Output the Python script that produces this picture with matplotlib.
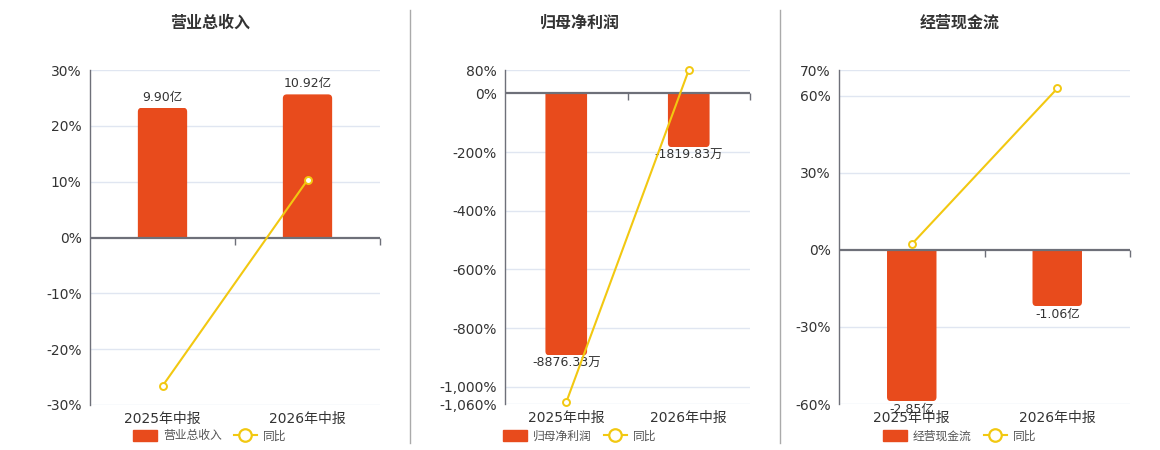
import matplotlib
matplotlib.use('Agg')
import matplotlib.pyplot as plt
from matplotlib.lines import Line2D
from matplotlib.patches import Patch, FancyBboxPatch
from matplotlib.transforms import Bbox, IdentityTransform, TransformedBbox

plt.rcParams['font.family'] = ['DejaVu Sans', 'Noto Sans CJK SC']

#%% Data

categories = ['2025年中报', '2026年中报']

revenue = [9.90, 10.92]            # 亿
revenue_yoy = [-26.6, 10.30]       # %
profit = [-8876.33, -1819.83]      # 万
profit_yoy = [-1053.0, 79.5]
cash = [-2.85, -1.06]              # 亿
cash_yoy = [2.2, 62.81]

titles = ['营业总收入', '归母净利润', '经营现金流']
units = ['亿', '万', '亿']
pct_ticks = [
    [-30, -20, -10, 0, 10, 20, 30],
    [-1060, -1000, -800, -600, -400, -200, 0, 80],
    [-60, -30, 0, 30, 60, 70],
]
bar_scale = [0.426, 9.94, 0.0484]

#%% Style

BAR = '#E84B1C'
LINE = '#F2C811'
GRID = '#E0E6F1'
AXIS = '#6E7079'
TXT = '#333333'

fig = plt.figure(figsize=(11.6, 4.5), dpi=100)
W, H = 1160, 450

# plot areas in pixels: left, right, top, bottom
boxes = [(90, 380, 70, 405), (505, 750, 70, 404.3), (839, 1130, 70, 404)]
centers = [210, 580, 960]

series = [(revenue, revenue_yoy), (profit, profit_yoy), (cash, cash_yoy)]


def round_bars(ax, bars, r=4):
    # swap each bar for one with rounded corners at its far end
    for rect in bars:
        x0 = rect.get_x()
        w = rect.get_width()
        h = rect.get_height()
        (px0, pz), (px1, pv) = ax.transData.transform([(x0, 0), (x0 + w, h)])
        ylo, yhi = (pz - r, pv) if pv >= pz else (pv, pz + r)
        fb = FancyBboxPatch((px0, ylo), px1 - px0, yhi - ylo,
                            boxstyle='round,pad=0,rounding_size=%d' % r,
                            facecolor=BAR, edgecolor='none',
                            transform=IdentityTransform())
        ax.add_patch(fb)
        cb = Bbox([[px0 - 1, min(pz, pv)], [px1 + 1, max(pz, pv)]])
        fb.set_clip_box(TransformedBbox(cb, IdentityTransform()))
        rect.set_visible(False)


for i, (vals, yoy) in enumerate(series):
    l, r, t, b = boxes[i]
    rect = [l / W, 1 - b / H, (r - l) / W, (b - t) / H]
    axp = fig.add_axes(rect)
    ticks = pct_ticks[i]
    lo, hi = ticks[0], ticks[-1]
    axp.set_ylim(lo, hi)
    axp.set_xlim(-0.5, 1.5)
    axp.set_yticks(ticks)
    axp.set_yticklabels(['{:,.0f}%'.format(v) for v in ticks])
    axp.tick_params(axis='y', length=0, labelsize=10, labelcolor=TXT, pad=6)
    axp.set_xticks(range(len(categories)))
    axp.set_xticklabels(categories)
    axp.tick_params(axis='x', length=0, labelsize=10, labelcolor=TXT, pad=5)
    for s in ['top', 'right', 'bottom']:
        axp.spines[s].set_visible(False)
    axp.spines['left'].set_color(AXIS)
    axp.spines['left'].set_linewidth(1)
    for v in ticks:
        if v != 0:
            axp.axhline(v, color=GRID, lw=1, zorder=0)
    axp.set_zorder(1)

    # bars
    axb = axp.twinx()
    k = bar_scale[i]
    axb.set_ylim(lo * k, hi * k)
    axb.set_yticks([])
    for s in axb.spines.values():
        s.set_visible(False)
    bars = axb.bar(range(len(categories)), vals, width=0.34, color=BAR, zorder=2)
    round_bars(axb, bars)
    for x, v in enumerate(vals):
        if v >= 0:
            axb.annotate('{:.2f}{}'.format(v, units[i]), (x, v), xytext=(0, 3),
                         textcoords='offset points', ha='center', va='bottom',
                         fontsize=9, color=TXT)
        else:
            axb.annotate('{:.2f}{}'.format(v, units[i]), (x, v), xytext=(0, -1),
                         textcoords='offset points', ha='center', va='top',
                         fontsize=9, color=TXT)
    axb.set_zorder(2)

    # zero axis + yoy line
    axl = axp.twinx()
    axl.set_ylim(lo, hi)
    axl.set_yticks([])
    for s in axl.spines.values():
        s.set_visible(False)
    axl.axhline(0, color=AXIS, lw=1.6, zorder=1)
    axl.plot([0.5, 1.5], [0, 0], ls='none', marker=3, markersize=5,
             color=AXIS, mew=1, clip_on=False)
    axl.plot(range(len(categories)), yoy, color=LINE, lw=1.5, marker='o',
             markersize=5, markerfacecolor='white', markeredgecolor=LINE,
             markeredgewidth=1.4, clip_on=False, zorder=3)
    axl.set_zorder(3)

    # title
    fig.text(centers[i] / W, 1 - 23 / H, titles[i], ha='center', va='center',
             fontsize=11.5, fontweight='bold', color=TXT,
             family=['Noto Sans CJK SC', 'DejaVu Sans'])

    # legend
    handles = [Patch(facecolor=BAR, edgecolor=BAR),
               Line2D([0], [0], color=LINE, lw=1.5, marker='o', markersize=9,
                      markerfacecolor='white', markeredgecolor=LINE, markeredgewidth=1.6)]
    leg = fig.legend(handles, [titles[i], '同比'], loc='center',
                     bbox_to_anchor=(centers[i] / W, 1 - 436 / H), ncol=2,
                     frameon=False, fontsize=8.5, handlelength=2.0, handleheight=1.1,
                     handletextpad=0.5, columnspacing=1.0, borderpad=0)
    for txt in leg.get_texts():
        txt.set_color('#555555')
        txt.set_family(['Noto Sans CJK SC', 'DejaVu Sans'])

# panel dividers
for xd in [410, 780]:
    fig.add_artist(Line2D([xd / W, xd / W], [1 - 10 / H, 1 - 443 / H],
                          color='#AAAAAA', lw=1))

fig.savefig('out.png', dpi=100)
